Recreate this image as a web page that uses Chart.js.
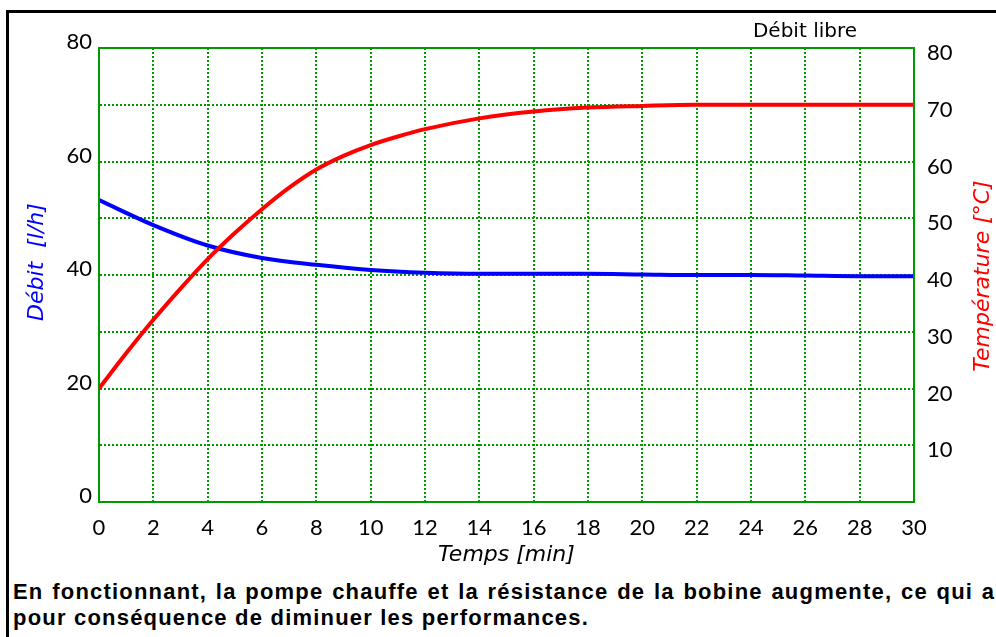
<!DOCTYPE html>
<html>
<head>
<meta charset="utf-8">
<title>Débit libre</title>
<script src="https://cdn.jsdelivr.net/npm/chart.js"></script>
<style>
  body { margin:0; width:996px; height:637px; overflow:hidden; background:#fff; position:relative; }
  #frame { position:absolute; left:6px; top:10px; width:1200px; height:900px; border-left:3px solid #000; border-top:3px solid #000; }
  #wrap { position:absolute; left:0; top:0; width:996px; height:570px; }
  #caption { position:absolute; left:13px; top:579px; font:bold 22px "Liberation Sans", Arial, sans-serif; letter-spacing:1.2px; line-height:26px; white-space:nowrap; color:#000; }
  #caption .l1 { word-spacing:1.4px; }
</style>
</head>
<body>
<div id="frame"></div>
<div id="wrap"><canvas id="chart"></canvas></div>
<div id="caption"><span class="l1">En fonctionnant, la pompe chauffe et la résistance de la bobine augmente, ce qui a</span><br>pour conséquence de diminuer les performances.</div>
<script>
// débit [l/h], axe de gauche (temps en minutes)
var debitTimes = [0, 2, 4, 6, 8, 10, 12, 14, 16, 18, 20, 22, 24, 26, 28, 30];
var debit = [53.2, 48.8, 45.2, 43.0, 41.8, 40.9, 40.4, 40.2, 40.2, 40.2, 40.1, 40.0, 40.0, 39.9, 39.8, 39.8];
// température [°C], axe de droite
var tempTimes = [0, 1, 2, 3, 4, 5, 6, 7, 8, 9, 10, 11, 12, 14, 16, 18, 20, 22, 24, 26, 28, 30];
var temperature = [20, 26.2, 32.1, 37.6, 42.8, 47.4, 51.6, 55.4, 58.6, 61.0, 62.9, 64.4, 65.7, 67.6, 68.8, 69.5, 69.8, 70, 70, 70, 70, 70];
var leftTicks = [0, 20, 40, 60, 80];
var rightTicks = [10, 20, 30, 40, 50, 60, 70, 80];

var green = '#009a00';
var tickFont = { family: 'Lato', size: 22 };
var titleFont = 'italic 22px "DejaVu Sans"';

function pts(xs, ys) {
  return xs.map(function (t, i) { return { x: t, y: ys[i] }; });
}

// cadre vert + textes libres
var extras = {
  id: 'extras',
  afterDraw: function (chart) {
    var c = chart.ctx, a = chart.chartArea;
    c.save();
    c.strokeStyle = green;
    c.lineWidth = 2;
    c.strokeRect(a.left, a.top, a.right - a.left, a.bottom - a.top);

    c.fillStyle = '#000';
    c.font = '20px "DejaVu Sans"';
    c.textAlign = 'center';
    c.textBaseline = 'middle';
    c.fillText('Débit libre', 805, 32);

    c.font = titleFont;
    c.fillStyle = '#0000ff';
    c.translate(37, 262);
    c.rotate(-Math.PI / 2);
    c.fillText('Débit  [l/h]', 0, 0);
    c.restore();

    c.save();
    c.font = titleFont;
    c.fillStyle = '#ff0000';
    c.textAlign = 'center';
    c.textBaseline = 'middle';
    c.translate(983, 276);
    c.rotate(-Math.PI / 2);
    c.fillText('Température [°C]', 0, 0);
    c.restore();
  }
};

new Chart(document.getElementById('chart'), {
  type: 'line',
  data: {
    datasets: [{
      label: 'Température',
      data: pts(tempTimes, temperature),
      yAxisID: 'y2',
      borderColor: '#ff0000',
      borderWidth: 4,
      pointRadius: 0,
      cubicInterpolationMode: 'monotone'
    }, {
      label: 'Débit',
      data: pts(debitTimes, debit),
      yAxisID: 'y',
      borderColor: '#0000ff',
      borderWidth: 4,
      pointRadius: 0,
      cubicInterpolationMode: 'monotone'
    }]
  },
  options: {
    responsive: true,
    maintainAspectRatio: false,
    animation: false,
    layout: { padding: { top: 48, left: 0, right: 0, bottom: 0 } },
    plugins: { legend: { display: false }, tooltip: { enabled: false } },
    scales: {
      x: {
        type: 'linear', min: 0, max: 30,
        afterFit: function (s) { s.height = 68; },
        ticks: { stepSize: 2, color: '#000', font: tickFont, padding: 13, maxRotation: 0 },
        grid: { color: green, lineWidth: 2, drawTicks: false },
        border: { color: green, width: 2, dash: [2, 2] },
        title: { display: true, text: 'Temps [min]', color: '#000', font: { family: 'DejaVu Sans', size: 22, style: 'italic' }, padding: { top: 0, bottom: 2 } }
      },
      y: {
        position: 'left', min: 0, max: 80,
        afterFit: function (s) { s.width = 99; },
        ticks: {
          stepSize: 10, color: '#000', font: tickFont, padding: 7, labelOffset: -6,
          callback: function (v) { return leftTicks.indexOf(v) >= 0 ? String(v) : ''; }
        },
        grid: { color: green, lineWidth: 2, drawTicks: false },
        border: { color: green, width: 2, dash: [2, 2] }
      },
      y2: {
        position: 'right', min: 0, max: 80,
        afterFit: function (s) { s.width = 82; },
        ticks: {
          stepSize: 10, color: '#000', font: tickFont, padding: 13, labelOffset: 5,
          callback: function (v) { return rightTicks.indexOf(v) >= 0 ? String(v) : ''; }
        },
        grid: { drawOnChartArea: false, drawTicks: false },
        border: { color: green, width: 2 }
      }
    }
  },
  plugins: [extras]
});
</script>
</body>
</html>
